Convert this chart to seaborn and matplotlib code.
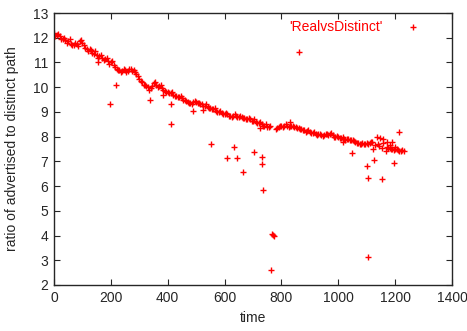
import matplotlib
matplotlib.use("Agg")
import matplotlib.pyplot as plt
import seaborn as sns
import pandas as pd

# main band of the ratio (time, value)
band_time = [0, 10, 20, 30, 40, 50, 60, 70, 80, 90, 100, 110, 120, 130, 140, 150,
             160, 170, 180, 190, 200, 210, 220, 230, 240, 250, 260, 270, 280, 290,
             300, 310, 320, 330, 340, 350, 360, 370, 380, 390, 400, 410, 420, 430,
             440, 450, 460, 470, 480, 490, 500, 510, 520, 530, 540, 550, 560, 570,
             580, 590, 600, 610, 620, 630, 640, 650, 660, 670, 680, 690, 700, 710,
             720, 730, 740, 750, 760, 780, 790, 800, 810, 820, 830, 840, 850, 860,
             870, 880, 890, 900, 910, 920, 930, 940, 950, 960, 970, 980, 990, 1000,
             1010, 1020, 1030, 1040, 1050, 1060, 1070, 1080, 1090, 1100, 1110, 1120,
             1170, 1180, 1190, 1200, 1210, 1220, 1230]
band_ratio = [12.2, 12.1, 12.05, 11.95, 11.9, 11.85, 11.75, 11.7, 11.75, 11.85, 11.8,
              11.6, 11.45, 11.5, 11.35, 11.3, 11.25, 11.2, 11.15, 11.05, 11.0, 10.9,
              10.75, 10.7, 10.65, 10.7, 10.65, 10.75, 10.7, 10.55, 10.35, 10.2, 10.1,
              10.0, 9.95, 10.15, 10.1, 10.05, 9.95, 9.85, 9.8, 9.75, 9.7, 9.65, 9.6,
              9.55, 9.5, 9.4, 9.35, 9.4, 9.4, 9.35, 9.3, 9.25, 9.2, 9.15, 9.1, 9.05,
              9.0, 8.95, 8.9, 8.9, 8.85, 8.85, 8.85, 8.8, 8.8, 8.75, 8.7, 8.7, 8.65,
              8.6, 8.55, 8.5, 8.45, 8.4, 8.45, 8.3, 8.4, 8.45, 8.45, 8.45, 8.42, 8.42,
              8.38, 8.35, 8.3, 8.25, 8.22, 8.2, 8.15, 8.12, 8.1, 8.05, 8.08, 8.1, 8.1,
              8.05, 8.0, 7.98, 7.95, 7.92, 7.9, 7.88, 7.85, 7.8, 7.75, 7.72, 7.72,
              7.74, 7.75, 7.8, 7.6, 7.55, 7.5, 7.48, 7.45, 7.42, 7.4]

# second pass of band samples, in between the first ones
band2_time = [5, 15, 25, 35, 45, 55, 65, 75, 85, 95, 105, 115, 125, 135, 145, 155,
              165, 175, 185, 195, 205, 215, 225, 235, 245, 255, 265, 275, 285, 295,
              305, 315, 325, 335, 345, 355, 365, 375, 385, 395, 405, 415, 425, 435,
              445, 455, 465, 475, 485, 495, 505, 515, 525, 535, 545, 555, 565, 575,
              585, 595, 605, 615, 625, 635, 645, 655, 665, 675, 685, 695, 705, 715,
              725, 735, 745, 755, 785, 795, 805, 815, 825, 835, 845, 855, 865, 875,
              885, 895, 905, 915, 925, 935, 945, 955, 965, 975, 985, 995, 1005, 1015,
              1025, 1035, 1045, 1055, 1065, 1075, 1085, 1095, 1105, 1115, 1175, 1185,
              1195, 1205, 1215, 1225]
band2_ratio = [12.05, 12.15, 11.95, 12.0, 11.8, 11.95, 11.7, 11.8, 11.65, 11.9, 11.7,
               11.55, 11.55, 11.4, 11.45, 11.2, 11.3, 11.1, 11.2, 10.95, 11.05, 10.8,
               10.7, 10.6, 10.75, 10.6, 10.75, 10.65, 10.6, 10.45, 10.25, 10.1, 10.05,
               9.9, 10.05, 10.2, 10.0, 10.1, 9.9, 9.8, 9.75, 9.8, 9.65, 9.6, 9.65, 9.5,
               9.45, 9.35, 9.3, 9.45, 9.35, 9.3, 9.25, 9.3, 9.15, 9.1, 9.15, 9.0, 9.05,
               8.9, 8.95, 8.85, 8.8, 8.9, 8.8, 8.85, 8.75, 8.7, 8.75, 8.65, 8.7, 8.55,
               8.6, 8.45, 8.5, 8.4, 8.35, 8.45, 8.4, 8.5, 8.4, 8.45, 8.38, 8.35, 8.32,
               8.28, 8.2, 8.25, 8.15, 8.18, 8.08, 8.12, 8.02, 8.12, 8.05, 8.15, 8.0,
               8.02, 7.95, 7.98, 7.88, 7.92, 7.85, 7.82, 7.76, 7.7, 7.75, 7.7, 7.72,
               7.78, 7.56, 7.52, 7.46, 7.5, 7.4, 7.45]

# scattered points away from the band
out_time = [155, 197, 217, 338, 383, 411, 411, 488, 524, 552, 609, 634, 645, 663,
            704, 725, 731, 731, 736, 765, 770, 775, 763, 830, 862, 1016, 1048, 1101,
            1104, 1104, 1126, 1153, 1196, 1213, 1122, 1130, 1136, 1140, 1143, 1147,
            1153, 1157, 1157, 1168, 1171, 1182, 1189, 1199]
out_ratio = [11.03, 9.3, 10.09, 9.48, 9.68, 9.3, 8.52, 9.04, 9.08, 7.72, 7.14, 7.58,
             7.14, 6.57, 7.38, 8.35, 7.18, 6.9, 5.84, 4.05, 4.02, 4.0, 2.6, 8.6, 11.42,
             7.78, 7.33, 6.81, 6.33, 3.13, 7.05, 6.29, 6.93, 8.19, 7.5, 7.65, 7.98,
             7.7, 7.62, 7.94, 7.54, 7.9, 7.74, 7.42, 7.78, 7.66, 7.78, 7.58]

df = pd.DataFrame({"time": band_time + band2_time + out_time,
                   "ratio": band_ratio + band2_ratio + out_ratio})

sns.set_style("ticks")
plt.rcParams["font.family"] = ["Liberation Sans", "DejaVu Sans"]

fig = plt.figure(figsize=(4.67, 3.31), dpi=100)
ax = fig.add_axes([0.1156, 0.139, 0.8524, 0.8217])
sns.scatterplot(data=df, x="time", y="ratio", marker="+", color="red", s=22,
                linewidth=1, label="'RealvsDistinct'", ax=ax)

ax.set_xlim(0, 1400)
ax.set_ylim(2, 13)
ax.set_xticks(range(0, 1401, 200))
ax.set_yticks(range(2, 14))
ax.tick_params(direction="in", top=True, right=True, labelsize=10, length=4, pad=4)
for s in ax.spines.values():
    s.set_linewidth(1)
ax.set_xlabel("time", fontsize=10, labelpad=5)
ax.set_ylabel("ratio of advertised to distinct path", fontsize=10, labelpad=10)
ax.legend(loc="upper right", frameon=False, markerfirst=False, labelcolor="red",
          fontsize=10, handletextpad=1.2, borderaxespad=0.1,
          bbox_to_anchor=(0.955, 1.0))

fig.savefig("out.png", dpi=100)
